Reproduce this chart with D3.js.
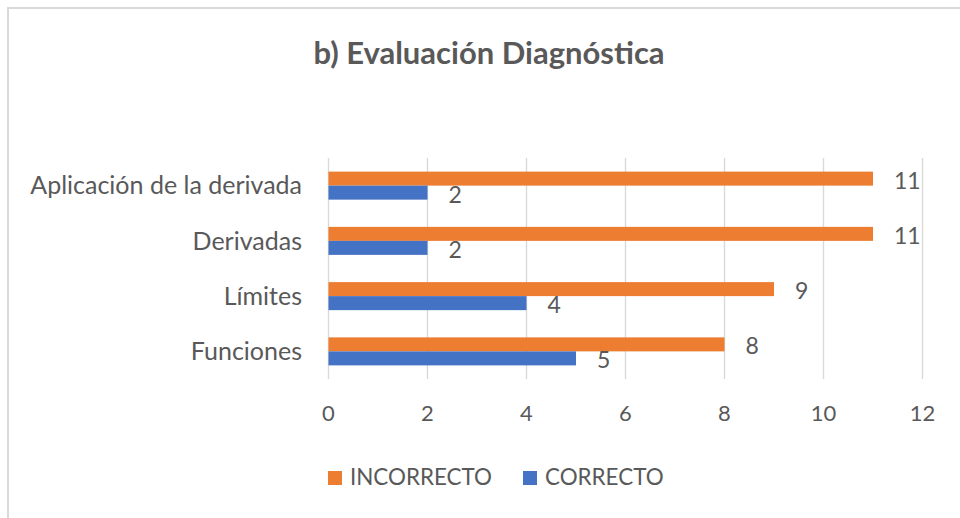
<!DOCTYPE html>
<html>
<head>
<meta charset="utf-8">
<script src="https://cdn.jsdelivr.net/npm/d3@7"></script>
<style>
  body { margin: 0; background: #fff; }
  svg text { font-family: Lato, "Open Sans", sans-serif; fill: #595959; }
</style>
</head>
<body>
<div id="chart"></div>
<script>
// datos del grafico
const categorias = ["Aplicación de la derivada", "Derivadas", "Límites", "Funciones"];
const series = ["INCORRECTO", "CORRECTO"];
const incorrecto = [11, 11, 9, 8];
const correcto = [2, 2, 4, 5];
const ticksX = [0, 2, 4, 6, 8, 10, 12];
const colores = { "INCORRECTO": "#ED7D31", "CORRECTO": "#4472C4" };

const width = 960, height = 518;

const svg = d3.select("#chart").append("svg")
    .attr("width", width)
    .attr("height", height);

// marco del grafico (sale por la derecha y abajo)
svg.append("rect")
    .attr("x", 8).attr("y", 8)
    .attr("width", 1000).attr("height", 600)
    .attr("fill", "none")
    .attr("stroke", "#d9d9d9")
    .attr("stroke-width", 2);

// titulo
svg.append("text")
    .attr("x", 489).attr("y", 64)
    .attr("text-anchor", "middle")
    .style("font-size", "31px")
    .style("font-weight", "bold")
    .text("b) Evaluación Diagnóstica");

const x = d3.scaleLinear().domain([0, 12]).range([328.5, 922.5]);
const y = d3.scaleBand().domain(categorias).range([158, 379])
    .paddingInner(0.493).paddingOuter(0.2465);
const ySub = d3.scaleBand().domain(series).range([0, y.bandwidth()]);

// lineas de cuadricula
svg.append("g").selectAll("line")
    .data(ticksX)
    .enter().append("line")
    .attr("x1", d => x(d)).attr("x2", d => x(d))
    .attr("y1", 158).attr("y2", 379)
    .attr("stroke", "#d9d9d9")
    .attr("stroke-width", 1.4);

// etiquetas eje x
svg.append("g").selectAll("text")
    .data(ticksX)
    .enter().append("text")
    .attr("x", d => x(d)).attr("y", 421)
    .attr("text-anchor", "middle")
    .style("font-size", "22px")
    .text(d => d);

// etiquetas eje y
svg.append("g").selectAll("text")
    .data(categorias)
    .enter().append("text")
    .attr("x", 302)
    .attr("y", d => y(d) + y.bandwidth() / 2)
    .attr("dy", "0.35em")
    .attr("text-anchor", "end")
    .style("font-size", "25px")
    .text(d => d);

// filas de datos
const filas = categorias.map((c, i) => ({
    cat: c,
    vals: [
        { serie: "INCORRECTO", v: incorrecto[i] },
        { serie: "CORRECTO", v: correcto[i] }
    ]
}));

const grupos = svg.append("g").selectAll("g")
    .data(filas)
    .enter().append("g")
    .attr("transform", d => `translate(0, ${y(d.cat)})`);

grupos.selectAll("rect")
    .data(d => d.vals)
    .enter().append("rect")
    .attr("x", x(0))
    .attr("y", d => ySub(d.serie))
    .attr("width", d => x(d.v) - x(0))
    .attr("height", ySub.bandwidth())
    .attr("fill", d => colores[d.serie]);

grupos.selectAll("text")
    .data(d => d.vals)
    .enter().append("text")
    .attr("x", d => x(d.v) + 21)
    .attr("y", d => ySub(d.serie) + ySub.bandwidth() / 2 + 2)
    .attr("dy", "0.35em")
    .style("font-size", "23px")
    .text(d => d.v);

// leyenda
const leyenda = [
    { serie: "INCORRECTO", x: 328 },
    { serie: "CORRECTO", x: 523 }
];
const ley = svg.append("g").selectAll("g")
    .data(leyenda)
    .enter().append("g")
    .attr("transform", d => `translate(${d.x}, 471)`);
ley.append("rect")
    .attr("width", 14).attr("height", 14)
    .attr("fill", d => colores[d.serie]);
ley.append("text")
    .attr("x", 22).attr("y", 14)
    .style("font-size", "22.4px")
    .text(d => d.serie);
</script>
</body>
</html>
